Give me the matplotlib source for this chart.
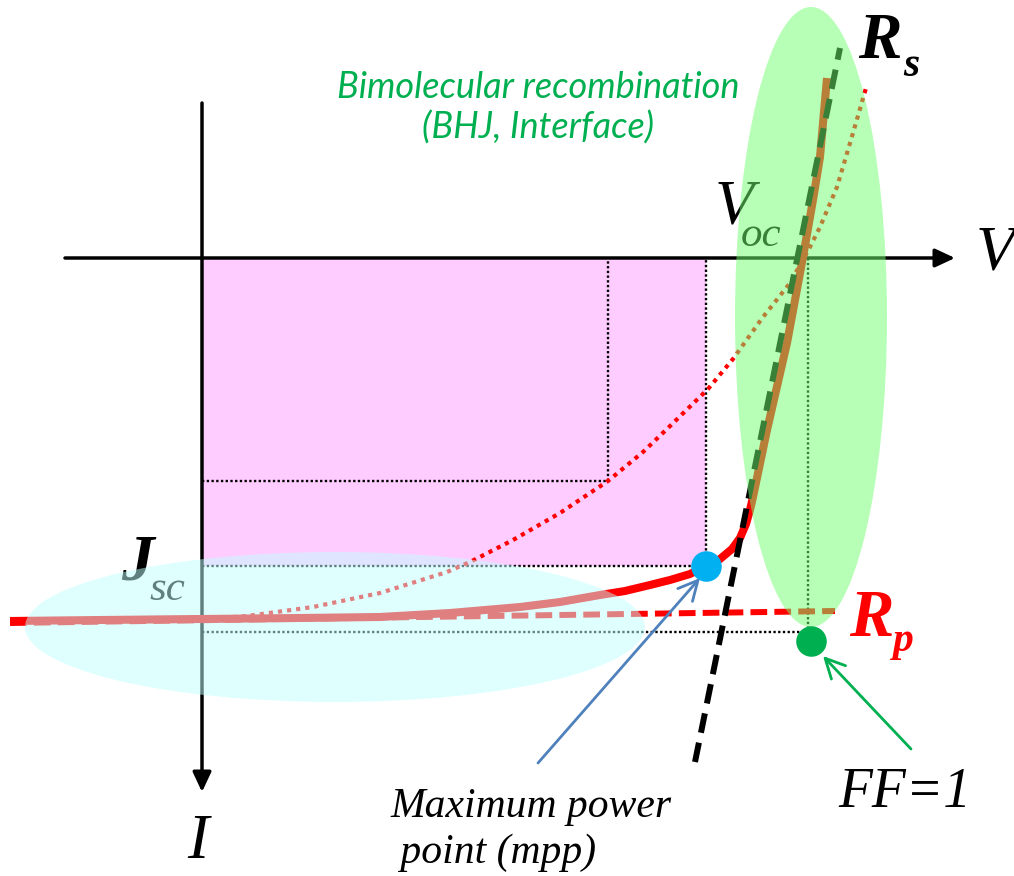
import matplotlib.pyplot as plt
from matplotlib.patches import Rectangle, Ellipse

# ==============================
# DATA (pixel coordinates of the sketch, y pointing down)
# ==============================

# measured J-V curve (solid red)
jv_x = [10, 100, 200, 300, 380, 450, 520, 560, 600, 625, 650, 670, 690, 706,
        720, 732, 740, 746, 750, 753, 767, 787, 803, 813, 820, 827]
jv_y = [621, 620, 619, 618, 617, 613, 607, 602, 595, 591, 585, 580, 574, 566,
        559, 549, 538, 524, 510, 497, 430, 343, 257, 200, 157, 78]

# curve with bimolecular recombination (dotted red)
bimol_x = [205, 247, 313, 380, 447, 470, 513, 560, 608, 643, 668, 708, 733,
           763, 775, 790, 810, 820, 837, 853, 866]
bimol_y = [619, 616, 607, 593, 572, 562, 540, 513, 481, 452, 428, 389, 359,
           317, 302, 283, 247, 227, 187, 133, 88]

# tangents: series resistance (black dashed) and shunt resistance (red dashed)
rs_x = [695, 840]
rs_y = [762, 48]
rp_x = [10, 835]
rp_y = [623, 611]

# origin, Voc, Jsc, mpp and the corners of the power rectangles
origin = (202, 258)
voc_x = 808
jsc_y = 632
mpp = (706, 566)
mpp2 = (608, 481)
ff1 = (811, 641)

# ==============================
# FIGURE
# ==============================

fig = plt.figure(figsize=(10.14, 8.76), dpi=100)
ax = fig.add_axes([0, 0, 1, 1])
ax.set_xlim(0, 1014)
ax.set_ylim(876, 0)
ax.axis("off")

serif = "Liberation Serif"

# pink power rectangle
ax.add_patch(Rectangle(origin, mpp[0] - origin[0], mpp[1] - origin[1],
                       facecolor="#FFCCFF", edgecolor="none", zorder=1))

# dotted rectangles (mpp, mpp of dotted curve, FF=1)
for cx, cy in [(mpp[0], mpp[1]), (mpp2[0], mpp2[1]), (voc_x, jsc_y)]:
    ax.plot([origin[0], cx, cx], [cy, cy, origin[1]], color="black",
            lw=1.7, ls=(0, (1, 1)), zorder=2)

# axes with arrows
arrow_kw = dict(arrowstyle="-|>,head_length=0.6,head_width=0.28", lw=2.5,
                color="black", mutation_scale=20, shrinkA=0, shrinkB=0)
ax.annotate("", xy=(955, origin[1]), xytext=(65, origin[1]),
            arrowprops=arrow_kw, zorder=3)
ax.annotate("", xy=(origin[0], 792), xytext=(origin[0], 103),
            arrowprops=arrow_kw, zorder=3)

# curves
ax.plot(rp_x, rp_y, color="red", lw=4.3, dashes=(2.8, 1.2), zorder=3)
ax.plot(bimol_x, bimol_y, color="red", lw=3.0, ls=(0, (1, 1.2)), zorder=3)
ax.plot(jv_x, jv_y, color="red", lw=5.8, solid_capstyle="butt",
        solid_joinstyle="round", zorder=3)
ax.plot(rs_x, rs_y, color="black", lw=4.3, dashes=(3.3, 1.7), zorder=3)

# labels
ax.text(995, 254, "V", family=serif, style="italic", fontsize=46,
        ha="center", va="center", zorder=3)
ax.text(198, 843, "I", family=serif, style="italic", fontsize=46,
        ha="center", va="center", zorder=3)
ax.text(734, 209, "V", family=serif, style="italic", fontsize=46,
        ha="center", va="center", zorder=3)
ax.text(761, 236, "oc", family=serif, style="italic", fontsize=31,
        ha="center", va="center", zorder=3)
ax.text(137, 563, "J", family=serif, style="italic", weight="bold",
        fontsize=47, ha="center", va="center", zorder=3)
ax.text(167, 590, "sc", family=serif, style="italic", fontsize=31,
        ha="center", va="center", zorder=3)
ax.text(880, 42, "R", family=serif, style="italic", weight="bold",
        fontsize=47, ha="center", va="center", zorder=3)
ax.text(911, 66, "s", family=serif, style="italic", weight="bold",
        fontsize=30, ha="center", va="center", zorder=3)
ax.text(871, 620, "R", family=serif, style="italic", weight="bold",
        fontsize=48, ha="center", va="center", color="red", zorder=6)
ax.text(903, 641, "p", family=serif, style="italic", weight="bold",
        fontsize=30, ha="center", va="center", color="red", zorder=6)
ax.text(905, 793, "FF=1", family=serif, style="italic", fontsize=40,
        ha="center", va="center", zorder=3)
ax.text(390, 830, "Maximum power\n point (mpp)", family=serif,
        style="italic", fontsize=30, ha="left", va="center",
        linespacing=1.25, zorder=3)
ax.text(538, 108, "Bimolecular recombination\n(BHJ, Interface)",
        family="Lato", style="italic", fontsize=26, color="#00B050",
        ha="center", va="center", linespacing=1.25, zorder=3)

# translucent highlight ellipses
ax.add_patch(Ellipse((335, 627), 620, 150, facecolor=(193/255, 1, 1),
                     alpha=0.5, edgecolor="none", zorder=4))
ax.add_patch(Ellipse((811, 317), 152, 620, facecolor=(112/255, 1, 112/255),
                     alpha=0.5, edgecolor="none", zorder=4))

# points and pointers
ax.plot(*mpp, "o", ms=22, color="#00B0F0", mec="none", zorder=5)
ax.plot(*ff1, "o", ms=22, color="#00B050", mec="none", zorder=5)
ax.annotate("", xy=(700, 578), xytext=(538, 763),
            arrowprops=dict(arrowstyle="->,head_length=0.7,head_width=0.35",
                            lw=2, color="#4F81BD", mutation_scale=20,
                            shrinkA=0, shrinkB=0), zorder=5)
ax.annotate("", xy=(823, 656), xytext=(911, 749),
            arrowprops=dict(arrowstyle="->,head_length=0.7,head_width=0.35",
                            lw=2, color="#00B050", mutation_scale=20,
                            shrinkA=0, shrinkB=0), zorder=5)

fig.savefig("out.png", dpi=100)
